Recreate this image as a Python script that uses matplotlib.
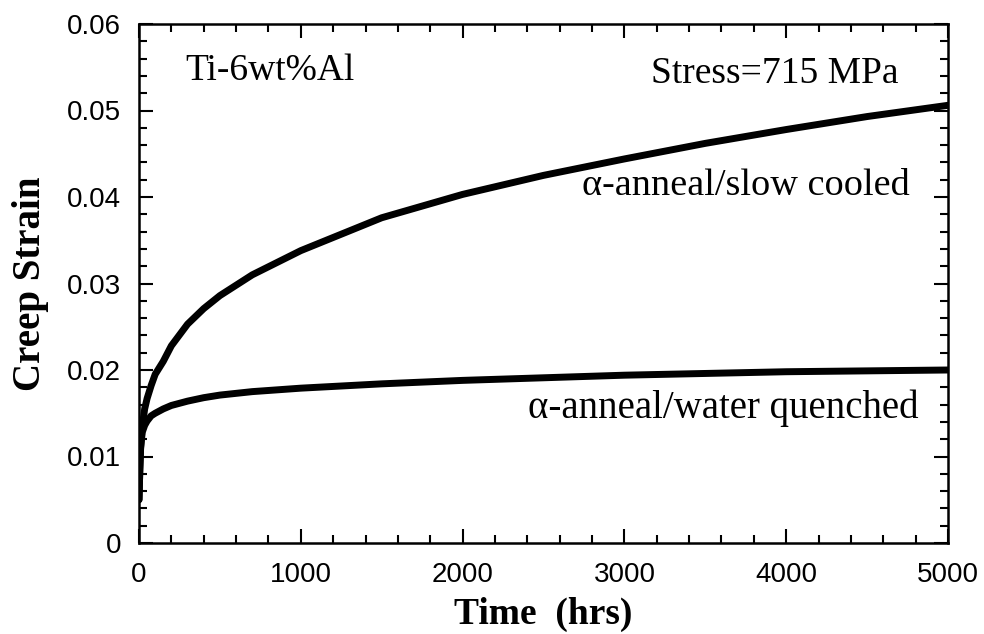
import matplotlib.pyplot as plt
from matplotlib.ticker import MultipleLocator

# creep curves (time in hrs, creep strain)
time_hrs = [0, 5, 10, 20, 35, 50, 75, 100, 150, 200, 300, 400, 500, 700,
            1000, 1500, 2000, 2500, 3000, 3500, 4000, 4500, 5000]
slow_cooled = [0.005, 0.0085, 0.011, 0.0135, 0.0155, 0.0167, 0.0182, 0.0195,
               0.0210, 0.0228, 0.0253, 0.0271, 0.0286, 0.0310, 0.0338, 0.0376,
               0.0403, 0.0425, 0.0444, 0.0462, 0.0478, 0.0493, 0.0506]
water_quenched = [0.005, 0.0085, 0.011, 0.0128, 0.0136, 0.0141, 0.0147, 0.0150,
                  0.0155, 0.0159, 0.0164, 0.0168, 0.0171, 0.0175, 0.0179,
                  0.0184, 0.0188, 0.0191, 0.0194, 0.0196, 0.0198, 0.0199, 0.0200]

xticks = [0, 1000, 2000, 3000, 4000, 5000]
yticks = [0, 0.01, 0.02, 0.03, 0.04, 0.05, 0.06]

serif = 'Liberation Serif'
sans = 'Liberation Sans'

fig = plt.figure(figsize=(9.84, 6.34), dpi=100)
ax = fig.add_axes([139/984, 1 - 543/634, 809/984, 519/634])

ax.plot(time_hrs, slow_cooled, color='black', lw=5, solid_capstyle='round')
ax.plot(time_hrs, water_quenched, color='black', lw=5, solid_capstyle='round')

ax.set_xlim(0, 5000)
ax.set_ylim(0, 0.06)
ax.set_xticks(xticks)
ax.set_yticks(yticks)
ax.set_xticklabels([str(t) for t in xticks], fontfamily=sans, fontsize=20)
ax.set_yticklabels(['0'] + ['%.2f' % v for v in yticks[1:]], fontfamily=sans, fontsize=20)
ax.xaxis.set_minor_locator(MultipleLocator(200))
ax.yaxis.set_minor_locator(MultipleLocator(0.002))
ax.tick_params(which='both', direction='in', top=True, right=True, width=1.5)
ax.tick_params(which='major', length=10)
ax.tick_params(which='minor', length=5.5)
ax.tick_params(axis='x', which='major', pad=14)
ax.tick_params(axis='y', which='major', pad=13)
for sp in ax.spines.values():
    sp.set_linewidth(1.8)

ax.set_xlabel('Time  (hrs)', fontfamily=serif, fontweight='bold', fontsize=27, labelpad=6)
ax.set_ylabel('Creep Strain', fontfamily=serif, fontweight='bold', fontsize=28, labelpad=13)

ax.text(284, 0.0535, 'Ti-6wt%Al', fontfamily=serif, fontsize=27)
ax.text(4691, 0.0532, 'Stress=715 MPa', fontfamily=serif, fontsize=27, ha='right')
ax.text(2738, 0.0402, 'α-anneal/slow cooled', fontfamily=serif, fontsize=27.5)
ax.text(2404, 0.01445, 'α-anneal/water quenched', fontfamily=serif, fontsize=28)

fig.savefig('out.png', dpi=100)
